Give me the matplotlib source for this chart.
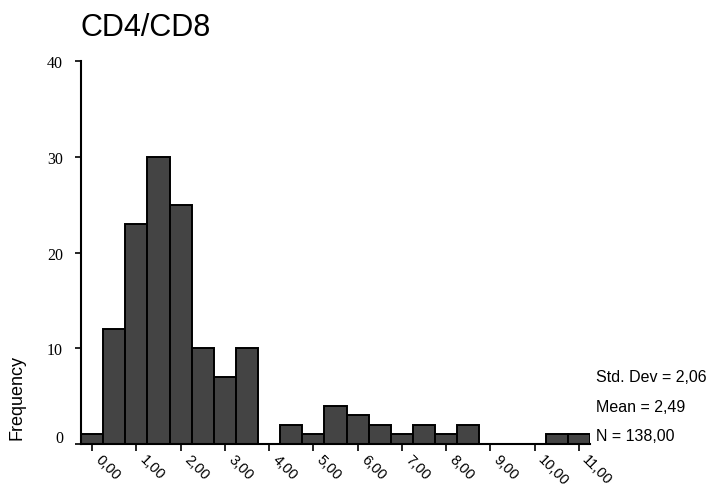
import numpy as np
import matplotlib
matplotlib.use('Agg')
import matplotlib.pyplot as plt
from matplotlib.transforms import ScaledTranslation

# histogram of CD4/CD8 ratio, bin width 0.5
bin_centers = [0.0, 0.5, 1.0, 1.5, 2.0, 2.5, 3.0, 3.5, 4.0, 4.5, 5.0, 5.5,
               6.0, 6.5, 7.0, 7.5, 8.0, 8.5, 9.0, 9.5, 10.0, 10.5, 11.0]
counts = [1, 12, 23, 30, 25, 10, 7, 10, 0, 2, 1, 4,
          3, 2, 1, 2, 1, 2, 0, 0, 0, 1, 1]
xticks = list(range(12))
xtick_labels = ['%d,00' % v for v in xticks]
yticks = [0, 10, 20, 30, 40]
stats_lines = ['Std. Dev = 2,06', 'Mean = 2,49', 'N = 138,00']

W, H = 718, 489
fig = plt.figure(figsize=(W/100, H/100), dpi=100)
ax = fig.add_axes([81/W, 1-445/H, (590-81)/W, (445-62)/H])

# skip empty bins so no flat edge line is drawn there
xs = [c for c, n in zip(bin_centers, counts) if n > 0]
hs = [n for n in counts if n > 0]
ax.bar(xs, hs, width=0.5, color='#444444', edgecolor='black', linewidth=1.4)

ax.set_xlim(-0.25, 11.25)
ax.set_ylim(0, 40)
ax.spines['top'].set_visible(False)
ax.spines['right'].set_visible(False)
ax.spines['left'].set_linewidth(1.5)
ax.spines['bottom'].set_linewidth(1.5)

ax.set_yticks(yticks)
ax.set_yticklabels([str(v) for v in yticks], family='Liberation Serif', fontsize=11.5)
ax.tick_params(axis='y', direction='out', length=4, width=1.2, pad=9)
lab0 = ax.get_yticklabels()[0]
lab0.set_transform(lab0.get_transform() + ScaledTranslation(0, 6/72, fig.dpi_scale_trans))

ax.set_xticks(xticks)
ax.set_xticklabels(xtick_labels, rotation=-45, ha='left', va='center',
                   rotation_mode='anchor', family='Liberation Sans', fontsize=10.5)
ax.tick_params(axis='x', direction='out', length=5, width=1.2, pad=4)
for lab in ax.get_xticklabels():
    lab.set_transform(lab.get_transform() + ScaledTranslation(4/72, 0, fig.dpi_scale_trans))

fig.text(81/W, 1-36/H, 'CD4/CD8', family='Liberation Sans', fontsize=22, ha='left', va='baseline')
fig.text(17/W, 1-397/H, 'Frequency', family='Liberation Sans', fontsize=13,
         rotation=90, ha='center', va='center')

for i, line in enumerate(stats_lines):
    fig.text(596/W, 1-(378 + 29.5*i)/H, line, family='Liberation Sans', fontsize=11.5,
             ha='left', va='center')

fig.savefig('out.png', dpi=100)
